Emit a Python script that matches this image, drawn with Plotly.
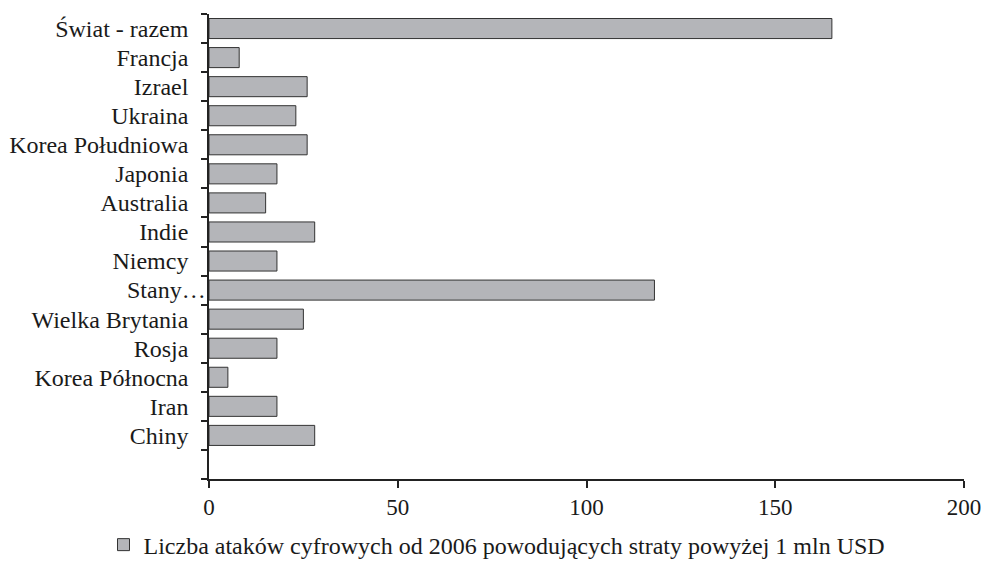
import plotly.graph_objects as go

categories = ["", "Chiny", "Iran", "Korea Północna", "Rosja", "Wielka Brytania", "Stany…",
              "Niemcy", "Indie", "Australia", "Japonia", "Korea Południowa", "Ukraina",
              "Izrael", "Francja", "Świat - razem"]
values = [None, 28, 18, 5, 18, 25, 118, 18, 28, 15, 18, 26, 23, 26, 8, 165]
series_name = "Liczba ataków cyfrowych od 2006 powodujących straty powyżej 1 mln USD"
x_ticks = [0, 50, 100, 150, 200]
truncated_label = "Stany…"

font_family = "Liberation Serif, Times New Roman, serif"

fig = go.Figure()
fig.add_trace(go.Bar(
    y=categories, x=values, orientation="h", name=series_name,
    marker=dict(color="#B4B5B9", line=dict(color="#333333", width=1)),
    showlegend=True,
))

tick_text = ["" if c == truncated_label else c for c in categories]

fig.add_annotation(x=0, xref="paper", y=truncated_label, yref="y", text=truncated_label,
                   showarrow=False, xanchor="right", yanchor="middle", xshift=-1,
                   font=dict(family=font_family, size=24, color="#1a1a1a"))

fig.update_layout(
    width=983, height=562,
    margin=dict(l=209, r=19, t=14, b=83),
    paper_bgcolor="white", plot_bgcolor="white",
    font=dict(family=font_family, size=24, color="#1a1a1a"),
    bargap=0.31,
    showlegend=True,
    legend=dict(orientation="h", xref="container", yref="container",
                x=0.5056, xanchor="center", y=0.0302, yanchor="middle",
                font=dict(size=24), itemwidth=30),
    xaxis=dict(range=[0, 200], tickvals=x_ticks, showgrid=False, zeroline=False,
               showline=True, linecolor="#222222", linewidth=1.5, automargin=False,
               ticks="outside", ticklen=7, tickcolor="#222222", tickwidth=1.5,
               tickfont=dict(size=23)),
    yaxis=dict(type="category", categoryorder="array", categoryarray=categories,
               tickmode="array", tickvals=categories, ticktext=tick_text,
               showgrid=False, zeroline=False, showline=True, linecolor="#222222",
               linewidth=1.5, ticks="outside", ticklen=6, tickcolor="#222222",
               tickwidth=1.5, tickson="boundaries", ticklabelstandoff=14,
               automargin=False),
)

fig.write_html("out.html", config={"displayModeBar": False},
               post_script="document.body.style.margin='0';")
